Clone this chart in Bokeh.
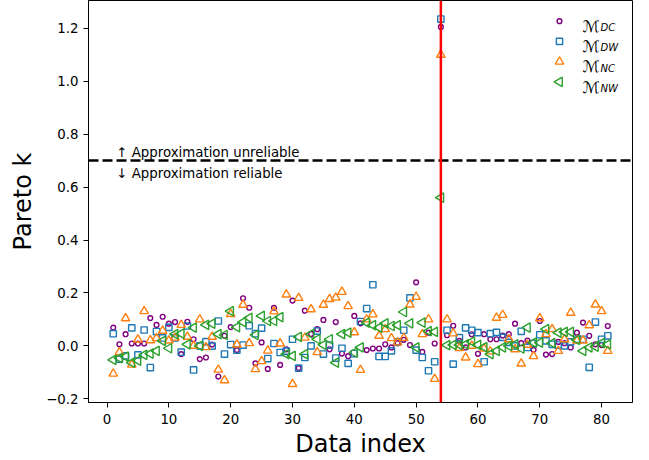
import math
from bokeh.plotting import figure
from bokeh.models import (Span, Label, FixedTicker, CustomJSTickFormatter, Range1d)
from bokeh.embed import file_html
from bokeh.resources import INLINE

# ---------------- data ----------------
data_index = list(range(1, 82))

pareto_dc = [0.069, 0.006, 0.044, 0.009, 0.009, 0.009, 0.105, 0.079, 0.110, 0.084,
             0.090, -0.031, 0.091, 0.025, -0.050, -0.044, 0.005, -0.116, 0.038, 0.071,
             -0.016, 0.180, 0.144, -0.066, 0.013, -0.087, 0.144, -0.072, -0.013, 0.171,
             -0.084, 0.133, 0.045, 0.063, 0.098, -0.013, 0.090, -0.029, -0.039, 0.113,
             0.085, -0.016, -0.010, -0.010, 0.006, -0.006, 0.010, 0.023, 0.003, 0.240,
             -0.023, 0.050, 0.009, 1.205, 0.040, 0.076, 0.019, -0.006, 0.044, -0.030,
             0.044, 0.025, 0.025, 0.039, 0.044, 0.084, 0.010, 0.020, -0.015, 0.094,
             -0.033, -0.031, 0.015, 0.010, -0.006, 0.050, 0.088, 0.038, 0.006, 0.003,
             0.075]

pareto_dw = [0.046, -0.050, -0.038, 0.068, -0.034, 0.060, -0.082, 0.054, 0.030, 0.070,
             0.030, -0.024, 0.075, -0.091, 0.000, 0.016, -0.001, 0.094, -0.031, 0.005,
             -0.016, 0.003, 0.076, 0.046, 0.067, -0.048, 0.009, -0.025, -0.020, 0.025,
             -0.084, -0.044, 0.000, 0.056, -0.031, 0.003, -0.046, -0.009, -0.066, -0.029,
             0.092, 0.141, 0.231, -0.040, -0.040, -0.019, 0.015, 0.059, 0.181, -0.016,
             -0.044, -0.094, -0.060, 1.235, 0.059, -0.069, 0.031, 0.068, 0.059, 0.050,
             -0.060, 0.046, 0.051, 0.032, 0.013, 0.000, 0.055, -0.006, 0.009, 0.042,
             0.019, 0.006, 0.003, 0.000, 0.015, 0.025, 0.025, -0.081, 0.090, 0.025,
             0.038]

pareto_nc = [-0.105, -0.024, 0.104, -0.071, 0.024, 0.131, 0.021, 0.029, 0.057, 0.020,
             0.031, 0.079, 0.034, 0.000, 0.100, -0.005, 0.034, -0.090, -0.130, 0.120,
             0.005, 0.155, 0.010, -0.088, -0.058, -0.018, 0.130, 0.009, 0.194, -0.144,
             0.181, 0.031, 0.138, -0.024, 0.155, 0.177, 0.182, 0.204, 0.150, 0.051,
             -0.091, 0.100, 0.119, 0.038, 0.063, 0.029, 0.013, 0.030, 0.156, 0.185,
             0.044, 0.100, -0.125, 1.100, 0.100, 0.047, -0.008, -0.044, 0.000, -0.069,
             -0.010, -0.021, 0.106, 0.117, 0.025, -0.013, -0.067, 0.004, -0.039, 0.104,
             0.044, 0.063, -0.019, 0.025, 0.125, 0.020, 0.020, 0.078, 0.156, 0.131,
             -0.019]

pareto_nw = [-0.053, -0.046, -0.041, -0.063, -0.056, -0.034, -0.029, -0.019, 0.019, -0.009,
             0.044, 0.046, 0.006, 0.069, 0.000, 0.079, 0.084, 0.044, 0.041, 0.131,
             0.071, 0.090, 0.106, 0.041, 0.113, 0.094, 0.094, 0.109, -0.031, -0.038,
             0.034, -0.031, 0.044, 0.025, 0.004, 0.025, -0.063, 0.044, 0.050, -0.025,
             -0.006, 0.088, 0.078, 0.069, 0.085, 0.075, 0.078, 0.128, 0.085, -0.006,
             0.088, 0.056, 0.053, 0.560, 0.003, 0.004, 0.004, 0.006, 0.016, 0.004,
             -0.005, -0.031, -0.019, -0.006, 0.000, 0.006, -0.010, 0.069, 0.012, 0.012,
             0.063, 0.010, 0.050, 0.053, 0.053, 0.023, -0.019, -0.006, -0.003, 0.010,
             0.006]

series_subscripts = ["DC", "DW", "NC", "NW"]
x_ticks = [0, 10, 20, 30, 40, 50, 60, 70, 80]
y_ticks = [-0.2, 0.0, 0.2, 0.4, 0.6, 0.8, 1.0, 1.2]
threshold = 0.7
flagged_index = 54
text_above = "\u2191 Approximation unreliable"
text_below = "\u2193 Approximation reliable"

# ---------------- styles ----------------
FONT = "DejaVu Sans"
LW = 1.4
styles = [
    dict(marker="circle", size=4.8, color="purple", angle=0.0),
    dict(marker="square", size=6.3, color="#1f77b4", angle=0.0),
    dict(marker="triangle", size=8.5, color="#ff7f0e", angle=0.0),
    dict(marker="triangle", size=9.5, color="#2ca02c", angle=math.pi / 2),
]

FW, FH = 544, 403
p = figure(width=649, height=460,
           min_border_left=88, min_border_right=17, min_border_top=0, min_border_bottom=57,
           x_range=Range1d(-3, 85), y_range=Range1d(-0.214, 1.305),
           output_backend="svg", toolbar_location=None)
p.background_fill_color = "white"
p.border_fill_color = "white"
p.grid.visible = False
p.outline_line_color = "black"
p.outline_line_width = 1

# pixel-like helper ranges for the legend block (top-left origin of the frame)
p.extra_x_ranges = {"lx": Range1d(0, FW)}
p.extra_y_ranges = {"ly": Range1d(FH, 0)}

for vals, st in zip([pareto_dc, pareto_dw, pareto_nc, pareto_nw], styles):
    p.scatter(data_index, vals, marker=st["marker"], size=st["size"], angle=st["angle"],
              fill_color=None, line_color=st["color"], line_width=LW)

p.add_layout(Span(location=threshold, dimension="width", line_color="black",
                  line_width=2.5, line_dash="10 4"))
p.add_layout(Span(location=flagged_index, dimension="height", line_color="red",
                  line_width=2.5))

p.add_layout(Label(x=1.5, y=0.729, text=text_above, text_font=FONT,
                   text_font_size="13.33px", text_baseline="alphabetic", text_color="black"))
p.add_layout(Label(x=1.5, y=0.651, text=text_below, text_font=FONT,
                   text_font_size="13.33px", text_baseline="alphabetic", text_color="black"))

# axes
p.xaxis.ticker = FixedTicker(ticks=x_ticks)
p.yaxis.ticker = FixedTicker(ticks=y_ticks)
p.yaxis.formatter = CustomJSTickFormatter(code="return tick.toFixed(1).replace('-', '\u2212');")
p.xaxis.axis_label = "Data index"
p.yaxis.axis_label = "Pareto k"
for ax in (p.xaxis, p.yaxis):
    ax.axis_line_color = "black"
    ax.major_tick_line_color = "black"
    ax.minor_tick_line_color = None
    ax.major_tick_out = 5
    ax.major_tick_in = 0
    ax.major_label_text_font = FONT
    ax.major_label_text_font_size = "13.33px"
    ax.major_label_text_color = "black"
    ax.axis_label_text_font = FONT
    ax.axis_label_text_font_size = "24px"
    ax.axis_label_text_font_style = "normal"
    ax.axis_label_text_color = "black"
p.xaxis.major_label_standoff = 6
p.yaxis.major_label_standoff = 5
p.xaxis.axis_label_standoff = 3
p.yaxis.axis_label_standoff = 6

# legend block: marker + script M with italic subscript
leg_x = 471
leg_y0, leg_dy = 20.7, 20.3
for k, (sub, st) in enumerate(zip(series_subscripts, styles)):
    cy = leg_y0 + leg_dy * k
    p.scatter([leg_x], [cy], x_range_name="lx", y_range_name="ly",
              marker=st["marker"], size=st["size"], angle=st["angle"],
              fill_color=None, line_color=st["color"], line_width=LW)
    p.add_layout(Label(x=494, y=cy + 5.3, x_range_name="lx", y_range_name="ly",
                       text="\u2133", text_font=FONT, text_font_size="16px",
                       text_baseline="alphabetic", text_color="black"))
    p.add_layout(Label(x=512, y=cy + 6.5, x_range_name="lx", y_range_name="ly",
                       text=sub, text_font=FONT, text_font_size="10px",
                       text_font_style="italic", text_baseline="alphabetic",
                       text_color="black"))

open("out.html", "w").write(file_html(p, INLINE))
